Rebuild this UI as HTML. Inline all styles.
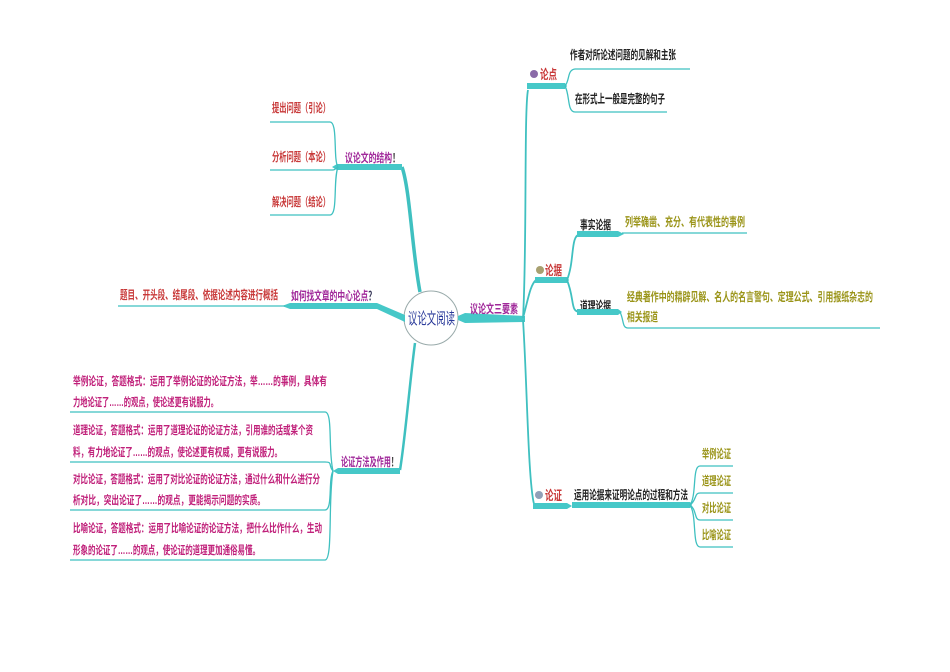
<!DOCTYPE html>
<html><head><meta charset="utf-8"><style>
body{margin:0;background:#fff}
svg{display:block}
text{font-family:"Liberation Sans","Noto Sans CJK SC",sans-serif;font-weight:bold}
.t{fill:#46c8c8}
.l{stroke:#3fc0c0;stroke-width:1.3;fill:none}
.p{fill:#a0289a;font-size:12px}
.r{fill:#c83838;font-size:12px}
.o{fill:#9a9418;font-size:12px}
.k{fill:#222;font-size:12px}
.m{fill:#c0207a;font-size:11.5px}
</style></head><body>
<svg width="950" height="672" viewBox="0 0 950 672">
<circle cx="431" cy="318" r="27" fill="#fff" stroke="#9aa" stroke-width="1"/>
<text x="408" y="324" textLength="47" lengthAdjust="spacingAndGlyphs" style="font-size:16px;fill:#2a3a9a;font-weight:normal">议论文阅读</text>
<path class="t" d="M458 316 L465 313 L525 316 L525 322 L465 323 L458 320Z"/>
<text x="470" y="313" class="p" textLength="48" lengthAdjust="spacingAndGlyphs">议论文三要素</text>
<path class="l" d="M523 318 C527 250 524 110 528 90" style="stroke-width:1.8"/>
<path class="l" d="M523 320 C527 380 528 480 534 504" style="stroke-width:1.8"/>
<path class="l" d="M523 318 C528 300 530 285 536 280" style="stroke-width:1.8"/>
<circle cx="534" cy="74" r="4" fill="#8a6aa8"/>
<text x="540" y="79" class="r" style="font-size:13px" textLength="17" lengthAdjust="spacingAndGlyphs">论点</text>
<path class="t" d="M527 83 L565 83 L567 86 L565 89 L527 89Z"/>
<path class="l" d="M565 86 C570 80 567 70 575 69 L690 69"/>
<path class="l" d="M565 86 C570 95 567 112 575 112 L667 112"/>
<text x="570" y="59" class="k" textLength="106" lengthAdjust="spacingAndGlyphs">作者对所论述问题的见解和主张</text>
<text x="575" y="103" class="k" textLength="90" lengthAdjust="spacingAndGlyphs">在形式上一般是完整的句子</text>
<circle cx="540" cy="270" r="4" fill="#a8a070"/>
<text x="545" y="275" class="r" style="font-size:13px" textLength="17" lengthAdjust="spacingAndGlyphs">论据</text>
<path class="t" d="M535 277 L567 277 L569 280 L567 283 L535 283Z"/>
<path class="l" d="M567 280 C575 260 570 236 580 234" style="stroke-width:1.8"/>
<path class="l" d="M567 280 C575 300 570 312 580 312" style="stroke-width:1.8"/>
<text x="580" y="229" class="k" textLength="31" lengthAdjust="spacingAndGlyphs">事实论据</text>
<path class="t" d="M577 231 L618 231 L624 234 L618 237 L577 237Z"/>
<path class="l" d="M622 233 L747 233"/>
<text x="625" y="226" class="o" textLength="120" lengthAdjust="spacingAndGlyphs">列举确凿、充分、有代表性的事例</text>
<text x="580" y="310" class="k" textLength="31" lengthAdjust="spacingAndGlyphs">道理论据</text>
<path class="t" d="M577 309 L618 309 L622 312 L618 315 L577 315Z"/>
<path class="l" d="M620 312 C624 320 622 328 628 328 L880 328"/>
<text x="627" y="301" class="o" textLength="246" lengthAdjust="spacingAndGlyphs">经典著作中的精辟见解、名人的名言警句、定理公式、引用报纸杂志的</text>
<text x="627" y="321" class="o" textLength="31" lengthAdjust="spacingAndGlyphs">相关报道</text>
<circle cx="539" cy="495" r="4" fill="#90a0b8"/>
<text x="545" y="500" class="r" style="font-size:13px" textLength="17" lengthAdjust="spacingAndGlyphs">论证</text>
<path class="t" d="M533 503 L567 503 L572 506 L567 509 L533 509Z"/>
<path class="t" d="M572 502 L690 502 L692 505 L690 508 L572 508Z"/>
<text x="574" y="499" class="k" textLength="114" lengthAdjust="spacingAndGlyphs">运用论据来证明论点的过程和方法</text>
<path class="l" d="M690 505 C697 495 692 466 700 466 L733 466"/>
<path class="l" d="M690 505 C697 500 694 493 700 493 L733 493"/>
<path class="l" d="M690 505 C697 510 694 520 700 520 L733 520"/>
<path class="l" d="M690 505 C697 515 692 547 700 547 L733 547"/>
<text x="702" y="458" class="o" textLength="29" lengthAdjust="spacingAndGlyphs">举例论证</text>
<text x="702" y="485" class="o" textLength="29" lengthAdjust="spacingAndGlyphs">道理论证</text>
<text x="702" y="512" class="o" textLength="29" lengthAdjust="spacingAndGlyphs">对比论证</text>
<text x="702" y="539" class="o" textLength="29" lengthAdjust="spacingAndGlyphs">比喻论证</text>
<path class="l" d="M402 167 C410 190 412 250 420 292" style="stroke-width:3.5"/>
<path class="t" d="M337 164 L402 164 L402 170 L337 170 L332 167Z"/>
<text x="345" y="162" class="p" textLength="55" lengthAdjust="spacingAndGlyphs">议论文的结构<tspan fill="#333">！</tspan></text>
<path class="l" d="M338 167 C333 160 338 122 330 122 L270 122"/>
<path class="l" d="M338 167 C333 170 336 170 330 170 L270 170"/>
<path class="l" d="M338 167 C333 180 338 215 330 215 L270 215"/>
<text x="272" y="112" class="r" textLength="58" lengthAdjust="spacingAndGlyphs">提出问题（引论）</text>
<text x="272" y="161" class="r" textLength="58" lengthAdjust="spacingAndGlyphs">分析问题（本论）</text>
<text x="272" y="206" class="r" textLength="58" lengthAdjust="spacingAndGlyphs">解决问题（结论）</text>
<path class="t" d="M377 303 L405 315 L405 322 L377 309Z"/>
<path class="t" d="M290 303 L377 303 L377 309 L290 309 L282 306Z"/>
<path class="l" d="M118 306 L285 306"/>
<text x="291" y="300" class="p" textLength="85" lengthAdjust="spacingAndGlyphs">如何找文章的中心论点<tspan fill="#335">？</tspan></text>
<text x="120" y="299" class="r" textLength="158" lengthAdjust="spacingAndGlyphs">题目、开头段、结尾段、依据论述内容进行概括</text>
<path class="l" d="M415 343 C410 380 405 440 400 470" style="stroke-width:2.5"/>
<path class="t" d="M338 468 L400 468 L400 474 L338 474 L333 471Z"/>
<text x="341" y="466" class="p" textLength="57" lengthAdjust="spacingAndGlyphs">论证方法及作用<tspan fill="#333">！</tspan></text>
<path class="l" d="M333 471 C328 450 333 412 325 412 L70 412"/>
<path class="l" d="M333 471 C328 465 333 462 325 462 L70 462"/>
<path class="l" d="M333 471 C328 480 333 510 325 510 L70 510"/>
<path class="l" d="M333 471 C328 500 333 560 325 560 L70 560"/>
<text x="73" y="385" class="m" textLength="254" lengthAdjust="spacingAndGlyphs">举例论证，答题格式：运用了举例论证的论证方法，举……的事例，具体有</text>
<text x="73" y="406" class="m" textLength="145" lengthAdjust="spacingAndGlyphs">力地论证了……的观点，使论述更有说服力。</text>
<text x="73" y="434" class="m" textLength="240" lengthAdjust="spacingAndGlyphs">道理论证，答题格式：运用了道理论证的论证方法，引用谁的话或某个资</text>
<text x="73" y="456" class="m" textLength="209" lengthAdjust="spacingAndGlyphs">料，有力地论证了……的观点，使论述更有权威，更有说服力。</text>
<text x="73" y="483" class="m" textLength="247" lengthAdjust="spacingAndGlyphs">对比论证，答题格式：运用了对比论证的论证方法，通过什么和什么进行分</text>
<text x="73" y="504" class="m" textLength="192" lengthAdjust="spacingAndGlyphs">析对比，突出论证了……的观点，更能揭示问题的实质。</text>
<text x="73" y="532" class="m" textLength="249" lengthAdjust="spacingAndGlyphs">比喻论证，答题格式：运用了比喻论证的论证方法，把什么比作什么，生动</text>
<text x="73" y="554" class="m" textLength="187" lengthAdjust="spacingAndGlyphs">形象的论证了……的观点，使论证的道理更加通俗易懂。</text>
</svg>
</body></html>
